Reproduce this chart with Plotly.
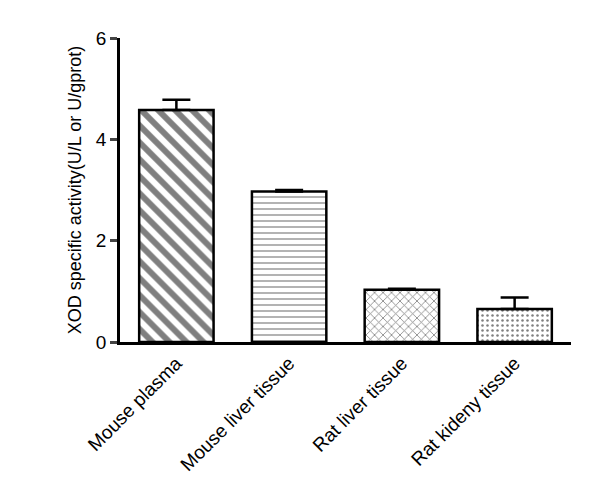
import plotly.graph_objects as go

categories = ["Mouse plasma", "Mouse liver tissue", "Rat liver tissue", "Rat kideny tissue"]
values = [4.58, 2.97, 1.03, 0.65]
errors = [0.20, 0.03, 0.02, 0.23]
patterns = ["\\", "-", "x", "."]

fig = go.Figure(go.Bar(
    x=categories, y=values,
    error_y=dict(type="data", array=errors, symmetric=False, arrayminus=[0]*4,
                 color="black", thickness=2.5, width=14),
    marker=dict(color="white", line=dict(color="black", width=2.5),
                pattern=dict(shape=patterns, fgcolor="black", size=[12, 6, 6, 5],
                             solidity=[0.5, 0.2, 0.25, 0.2])),
    width=0.66,
))
fig.update_layout(
    width=599, height=490, plot_bgcolor="white", paper_bgcolor="white",
    margin=dict(l=112, r=36, t=30, b=156), showlegend=False,
    font=dict(family="Liberation Sans, Arial", color="black"),
    xaxis=dict(showline=True, linecolor="black", linewidth=2.5, ticks="", tickangle=-45,
               tickfont=dict(size=19), range=[-0.5, 3.5]),
    yaxis=dict(range=[0, 6], tickvals=[0, 2, 4, 6], showline=True, linecolor="black",
               linewidth=2.5, ticks="outside", ticklen=7, tickwidth=2.5, showgrid=False,
               zeroline=False, tickfont=dict(size=19),
               title=dict(text="XOD specific activity(U/L or U/gprot)", font=dict(size=18), standoff=10)),
)
fig.update_yaxes(tickprefix="<b>", ticksuffix="</b>")
fig.write_html("out.html")
